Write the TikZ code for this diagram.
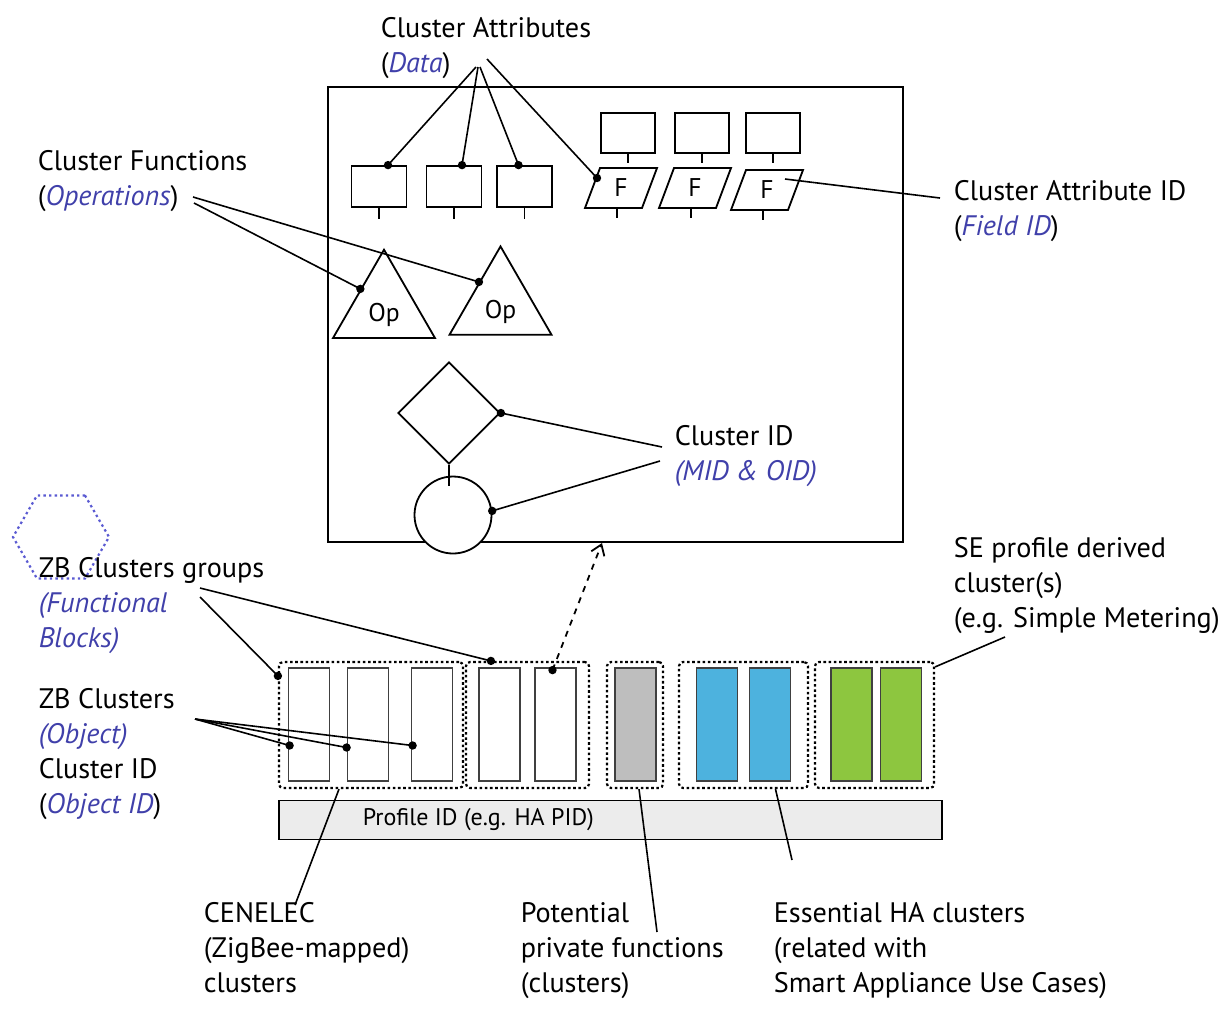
\documentclass[tikz,border=0pt]{standalone}
\usepackage{fontspec}
\setmainfont{PT Sans}
\usetikzlibrary{shapes.geometric,calc,arrows.meta}
\definecolor{lblue}{RGB}{64,64,170}
\definecolor{hexblue}{RGB}{90,90,210}
\definecolor{cblue}{RGB}{77,178,222}
\definecolor{cgreen}{RGB}{141,198,63}
\definecolor{cgray}{RGB}{190,190,190}
\definecolor{pbar}{RGB}{236,236,236}
\newcommand{\bl}[1]{\textcolor{lblue}{\itshape #1}}
\begin{document}
\begin{tikzpicture}[x=0.5pt,y=-0.5pt,line width=0.8pt,
  lbl/.style={anchor=north west, inner sep=0, align=left, font=\fontsize{14.1}{17.5}\selectfont},
  abox/.style={draw, line width=0.9pt, minimum width=27.5pt, minimum height=20.5pt, inner sep=0},
  ubox/.style={draw, line width=0.9pt, minimum width=27pt, minimum height=20pt, inner sep=0},
  tri/.style={draw, line width=0.9pt, regular polygon, regular polygon sides=3, minimum size=58.9pt, inner sep=0},
  crect/.style={draw=black!75, line width=0.9pt, minimum width=20.5pt, minimum height=56.5pt, inner sep=0},
  gbox/.style={draw, dash pattern=on 1.3pt off 1.3pt, line width=1.1pt, rounded corners=2pt, minimum height=63pt, inner sep=0},
  sfont/.style={font=\fontsize{12}{14}\selectfont},
  ffont/.style={font=\fontsize{12.8}{14}\selectfont},
  dot/.style={circle, fill=black, inner sep=0, minimum size=4.2pt}
]
\useasboundingbox (0,0) rectangle (1230,1008);

% main frame
\node[draw, line width=1pt, minimum width=287.5pt, minimum height=227.5pt, inner sep=0] (frame) at (615.5,314.5) {};

% lower attribute boxes
\node[abox] (a1) at (379,186.5) {};
\node[abox] (a2) at (454,186.5) {};
\node[abox] (a3) at (524.5,186.5) {};
\foreach \n in {1,2,3} \draw (a\n.south) -- ++(0,11);

% upper boxes
\node[ubox] (u1) at (628,133) {};
\node[ubox] (u2) at (702,133) {};
\node[ubox] (u3) at (773,133) {};
\foreach \n in {1,2,3} \draw (u\n.south) -- ++(0,9);

% F parallelograms
\foreach \n/\x/\y in {1/621/188,2/695/188,3/767/190} {
  \node[ffont, inner sep=0] (p\n) at (\x,\y) {F};
  \draw[line width=0.9pt] ($(p\n.center)+(-36,20)$) -- ++(57,0) -- ++(15,-40) -- ++(-57,0) -- cycle;
  \draw ($(p\n.center)+(-4,20)$) -- ++(0,10);
}

% Op triangles
\node[tri] (t1) at (384,308.6) {};
\node[tri] (t2) at (500.5,305.3) {};
\node[ffont, inner sep=0] (t1l) at ($(t1.center)+(0,6)$) {Op};
\node[ffont, inner sep=0] (t2l) at ($(t2.center)+(0,7)$) {Op};

% diamond and circle
\node[draw, line width=0.9pt, diamond, aspect=1, minimum width=51pt, minimum height=51pt, inner sep=0] (dm) at (449,413) {};
\node[draw, line width=0.9pt, circle, fill=white, minimum size=38.5pt, inner sep=0] (cc) at (453,515) {};
\draw (dm.south) -- ($(dm.south)+(0,21)$);

% labels
\node[lbl] (ca) at (380,17) {Cluster Attributes\\(\bl{Data})};
\node[lbl] (cf) at (37,150) {Cluster Functions\\(\bl{Operations})};
\node[lbl] (cai) at (953,180) {Cluster Attribute ID\\(\bl{Field ID})};
\node[lbl] (cid) at (674,425) {Cluster ID\\\bl{(MID \& OID)}};

% hexagon
\node[draw=hexblue, dash pattern=on 1.2pt off 1.6pt, line width=1.1pt, regular polygon, regular polygon sides=6, minimum size=48pt, inner sep=0] (hex) at (61,537) {};

\node[lbl] (zbg) at (38,557) {ZB Clusters groups\\\bl{(Functional}\\\bl{Blocks)}};
\node[lbl] (zbc) at (38,688) {ZB Clusters\\\bl{(Object)}\\Cluster ID\\(\bl{Object ID})};
\node[lbl] (se) at (953,537) {SE profile derived\\cluster(s)\\(e.g. Simple Metering)};
\node[lbl] (cen) at (203,902) {CENELEC\\(ZigBee-mapped)\\clusters};
\node[lbl] (pot) at (520,902) {Potential\\private functions\\(clusters)};
\node[lbl] (ess) at (773,902) {Essential HA clusters\\(related with\\Smart Appliance Use Cases)};

% groups
\node[gbox, minimum width=92pt] (G1) at (371,725) {};
\node[gbox, minimum width=61.5pt] (G2) at (527.5,725) {};
\node[gbox, minimum width=28pt] (Gg) at (635,725) {};
\node[gbox, minimum width=64.5pt] (Gb) at (743.5,725) {};
\node[gbox, minimum width=59.5pt] (Gn) at (874.5,725) {};

% cluster rects
\node[crect] (r1) at (309,724.5) {};
\node[crect] (r2) at (368,724.5) {};
\node[crect] (r3) at (432,724.5) {};
\node[crect] (r4) at (499.5,724.5) {};
\node[crect] (r5) at (555.5,724.5) {};
\node[crect, fill=cgray] (rg) at (635.5,724.5) {};
\node[crect, fill=cblue] (b1) at (717,724.5) {};
\node[crect, fill=cblue] (b2) at (770,724.5) {};
\node[crect, fill=cgreen] (g1) at (851.5,724.5) {};
\node[crect, fill=cgreen] (g2) at (901,724.5) {};

% profile bar
\node[draw, line width=0.9pt, fill=pbar, minimum width=331.5pt, minimum height=19.5pt, inner sep=0] (pb) at (610.5,820) {};
\node[sfont, anchor=west, inner sep=0] (pbt) at (362,820) {Profile ID (e.g. HA PID)};

% connector end points
\coordinate (caA) at (476,67);
\coordinate (caB) at (478,67);
\coordinate (caC) at (480,67);
\coordinate (caD) at (487,59);
\coordinate (cfA) at (193,197);
\coordinate (cfB) at (194,203);
\coordinate (caiA) at (940,198);
\coordinate (cidA) at (662,447);
\coordinate (cidB) at (660,461);
\coordinate (zbgA) at (200,588);
\coordinate (zbgB) at (200,597);
\coordinate (zbcA) at (195,719);
\coordinate (seA) at (1005,637);
\coordinate (cenA) at (295,905);
\coordinate (potA) at (657,932);
\coordinate (essA) at (792,860);

% dot positions
\coordinate (da1) at ($(a1.north)+(9,0)$);
\coordinate (da2) at ($(a2.north)+(8,0)$);
\coordinate (da3) at ($(a3.north)+(-6,0)$);
\coordinate (dp1) at ($(p1.center)+(-24,-10)$);
\coordinate (dt1) at ($(t1.corner 1)!0.45!(t1.corner 2)$);
\coordinate (dt2) at ($(t2.corner 1)!0.41!(t2.corner 2)$);
\coordinate (ddm) at (dm.east);
\coordinate (dcc) at (cc.6);
\coordinate (dG1) at ($(G1.north west)+(0,15)$);
\coordinate (dG2) at ($(G2.north west)+(26,0)$);
\coordinate (dr5) at ($(r5.north)+(-3,3)$);
\coordinate (dr1) at ($(r1.west)+(2,21)$);
\coordinate (dr2) at ($(r2.west)+(0,23)$);
\coordinate (dr3) at ($(r3.west)+(2,21)$);

% connectors
\draw (caA) -- (da1);
\draw (caB) -- (da2);
\draw (caC) -- (da3);
\draw (caD) -- (dp1);
\draw (cfA) -- (dt2);
\draw (cfB) -- (dt1);
\draw (caiA) -- ($(p3.center)+(18,-11)$);
\draw (cidA) -- (ddm);
\draw (cidB) -- (dcc);
\draw (zbgA) -- (dG2);
\draw (zbgB) -- (dG1);
\draw (zbcA) -- (dr1);
\draw (zbcA) -- (dr2);
\draw (zbcA) -- (dr3);
\draw (seA) -- ($(Gn.north east)+(0,6)$);
\draw (cenA) -- ($(G1.south)+(-32,0)$);
\draw (potA) -- ($(Gg.south)+(4,0)$);
\draw (essA) -- ($(Gb.south)+(32,0)$);
\draw[dashed, line width=0.9pt, -{Straight Barb[length=5pt,width=7pt]}] (dr5) -- ($(frame.south west)+(275,0)$);

\foreach \d in {da1,da2,da3,dp1,dt1,dt2,ddm,dcc,dG1,dG2,dr5,dr1,dr2,dr3}
  \node[dot] at (\d) {};
\end{tikzpicture}
\end{document}
